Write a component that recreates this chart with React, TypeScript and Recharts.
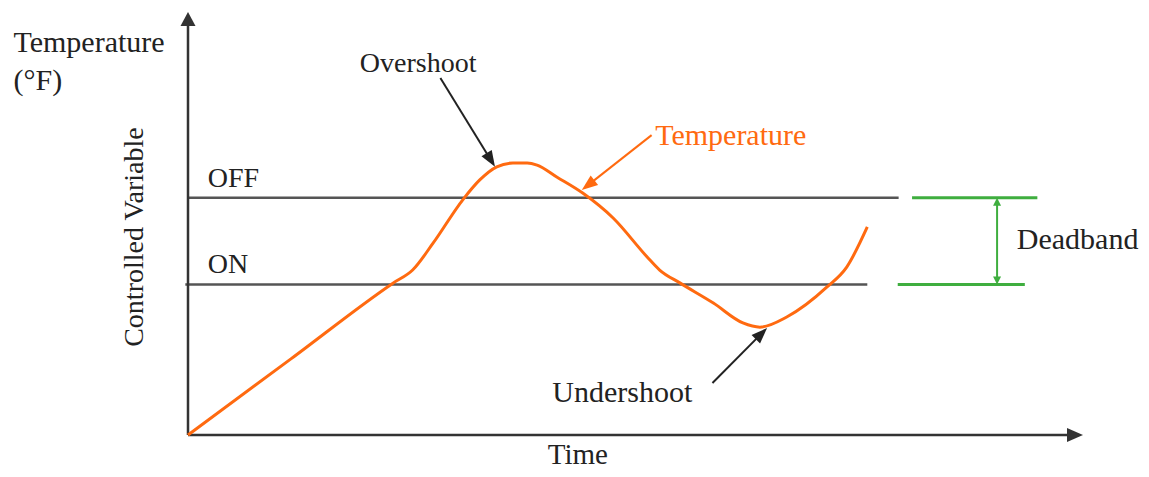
import { ComposedChart, Line, XAxis, YAxis, ReferenceLine, ReferenceDot } from "recharts";

// temperature trace, time and temperature in arbitrary units (0-100)
const time = [0, 11.5, 22.9, 25.1, 27.4, 30.7, 32.6, 34.5, 36.3, 37.9, 39.0, 41.2, 44.1, 47.5, 51.3, 52.7, 55.0, 58.7, 62.0, 63.9, 66.9, 71.4, 73.6, 75.9];
const temperature = [0, 18.0, 35.9, 39.0, 45.4, 55.6, 60.3, 63.4, 64.3, 64.3, 63.8, 61.0, 57.2, 51.3, 42.1, 39.0, 35.9, 31.2, 26.5, 25.5, 27.9, 35.0, 39.7, 49.2];

// thermostat set points
const OFF_LEVEL = 56.1;
const ON_LEVEL = 35.6;

const data = time.map((t, i) => ({ t, v: temperature[i] }));

const ORANGE = "#ff6a10";
const GREEN = "#3fae3f";
const FONT = "Liberation Serif, Times New Roman, serif";

type Pt = { x: number; y: number };

const arrowShape =
  (color: string, width: number, headLen: number, headW: number, both = false) =>
  (p: any) => {
    const { x1, y1, x2, y2 } = p;
    const dx = x2 - x1;
    const dy = y2 - y1;
    const len = Math.hypot(dx, dy) || 1;
    const ux = dx / len;
    const uy = dy / len;
    const head = (tx: number, ty: number, ax: number, ay: number) => {
      const bx = tx - ax * headLen;
      const by = ty - ay * headLen;
      return `${tx},${ty} ${bx - ay * headW},${by + ax * headW} ${bx + ay * headW},${by - ax * headW}`;
    };
    return (
      <g>
        <line
          x1={both ? x1 + ux * headLen * 0.5 : x1}
          y1={both ? y1 + uy * headLen * 0.5 : y1}
          x2={x2 - ux * headLen * 0.5}
          y2={y2 - uy * headLen * 0.5}
          stroke={color}
          strokeWidth={width}
        />
        <polygon points={head(x2, y2, ux, uy)} fill={color} />
        {both && <polygon points={head(x1, y1, -ux, -uy)} fill={color} />}
      </g>
    );
  };

const textShape =
  (label: string, size: number, color = "#222", rotate = false) =>
  (p: any) => {
    const { cx, cy } = p;
    return (
      <text
        x={cx}
        y={cy}
        fontFamily={FONT}
        fontSize={size}
        fill={color}
        textAnchor={rotate ? "middle" : "start"}
        transform={rotate ? `rotate(-90 ${cx} ${cy})` : undefined}
      >
        {label}
      </text>
    );
  };

const labels = [
  { text: "Temperature", t: -19.5, v: 90.5, size: 30 },
  { text: "(°F)", t: -19.5, v: 81.6, size: 30 },
  { text: "Controlled Variable", t: -5.0, v: 46.8, size: 28, rotate: true },
  { text: "Overshoot", t: 19.2, v: 85.8, size: 28 },
  { text: "Temperature", t: 52.2, v: 68.6, size: 30, color: ORANGE },
  { text: "Undershoot", t: 40.7, v: 7.8, size: 30 },
  { text: "OFF", t: 2.2, v: 58.6, size: 28 },
  { text: "ON", t: 2.2, v: 38.3, size: 28 },
  { text: "Time", t: 40.2, v: -6.8, size: 29 },
  { text: "Deadband", t: 92.6, v: 44.0, size: 30 },
];

const pointers: { from: Pt; to: Pt; color: string }[] = [
  { from: { x: 28.2, y: 84.4 }, to: { x: 34.3, y: 63.4 }, color: "#222" },
  { from: { x: 51.8, y: 70.9 }, to: { x: 44.0, y: 57.9 }, color: ORANGE },
  { from: { x: 58.6, y: 12.3 }, to: { x: 64.7, y: 25.3 }, color: "#222" },
];

export default function App() {
  return (
    <div style={{ position: "absolute", left: 0, top: 0, background: "#fff" }}>
      <ComposedChart width={1149} height={477} data={data} margin={{ top: 12, right: 66, bottom: 42, left: 188 }}>
        <XAxis dataKey="t" type="number" domain={[0, 100]} hide />
        <YAxis type="number" domain={[0, 100]} hide />

        {/* set point lines */}
        <ReferenceLine
          segment={[{ x: 0, y: OFF_LEVEL }, { x: 79.4, y: OFF_LEVEL }]}
          stroke="#555"
          strokeWidth={2.5}
          ifOverflow="visible"
        />
        <ReferenceLine
          segment={[{ x: -0.3, y: ON_LEVEL }, { x: 75.9, y: ON_LEVEL }]}
          stroke="#555"
          strokeWidth={2.5}
          ifOverflow="visible"
        />

        {/* deadband marker */}
        <ReferenceLine
          segment={[{ x: 80.9, y: OFF_LEVEL }, { x: 94.9, y: OFF_LEVEL }]}
          stroke={GREEN}
          strokeWidth={3}
          ifOverflow="visible"
        />
        <ReferenceLine
          segment={[{ x: 79.3, y: ON_LEVEL }, { x: 93.5, y: ON_LEVEL }]}
          stroke={GREEN}
          strokeWidth={3}
          ifOverflow="visible"
        />
        <ReferenceLine
          segment={[{ x: 90.4, y: ON_LEVEL }, { x: 90.4, y: OFF_LEVEL }]}
          ifOverflow="visible"
          shape={arrowShape(GREEN, 2, 8, 4, true)}
        />

        {/* axes with arrow heads */}
        <ReferenceLine
          segment={[{ x: 0, y: 0 }, { x: 0, y: 100 }]}
          ifOverflow="visible"
          shape={arrowShape("#333", 2.5, 14, 7.5)}
        />
        <ReferenceLine
          segment={[{ x: 0, y: 0 }, { x: 100, y: 0 }]}
          ifOverflow="visible"
          shape={arrowShape("#333", 2.5, 16, 7)}
        />

        <Line
          type="monotone"
          dataKey="v"
          stroke={ORANGE}
          strokeWidth={3}
          dot={false}
          isAnimationActive={false}
        />

        {pointers.map((a, i) => (
          <ReferenceLine
            key={`p${i}`}
            segment={[a.from, a.to]}
            ifOverflow="visible"
            shape={arrowShape(a.color, 2, 16, 6)}
          />
        ))}

        {labels.map((l, i) => (
          <ReferenceDot
            key={`l${i}`}
            x={l.t}
            y={l.v}
            r={0}
            ifOverflow="visible"
            shape={textShape(l.text, l.size, l.color, l.rotate)}
          />
        ))}
      </ComposedChart>
    </div>
  );
}
